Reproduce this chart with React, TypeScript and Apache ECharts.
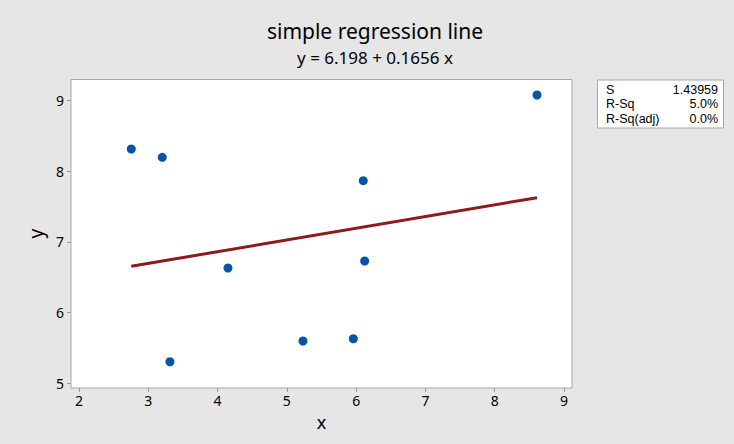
import React, { useEffect, useRef } from "react";
import * as echarts from "echarts";

const xValues = [2.755, 3.202, 3.313, 4.15, 5.233, 5.959, 6.103, 6.123, 8.61];
const yValues = [8.312, 8.194, 5.305, 6.63, 5.598, 5.63, 7.864, 6.729, 9.075];
const intercept = 6.198;
const slope = 0.1656;
const xTicks = [2, 3, 4, 5, 6, 7, 8, 9];
const yTicks = [5, 6, 7, 8, 9];
const statLabels = ["S", "R-Sq", "R-Sq(adj)"];
const statValues = ["1.43959", "5.0%", "0.0%"];
const titleText = "simple regression line";

const FONT = "'Noto Sans', 'Open Sans', sans-serif";
const STAT_FONT = "'Liberation Sans', Arial, sans-serif";

export default function App() {
  const ref = useRef<HTMLDivElement>(null);
  useEffect(() => {
    if (!ref.current) return;
    const chart = echarts.init(ref.current, null, { renderer: "svg" });
    const xMin = Math.min(...xValues);
    const xMax = Math.max(...xValues);
    const lineData = [
      [xMin, intercept + slope * xMin],
      [xMax, intercept + slope * xMax],
    ];
    const scatterData = xValues.map((x, i) => [x, yValues[i]]);

    const statTexts: any[] = [];
    statLabels.forEach((l, i) => {
      const y = 89.5 + i * 14.6;
      statTexts.push({
        type: "text",
        x: 606,
        y,
        style: { text: l, fontSize: 12.5, fontFamily: STAT_FONT, fill: "#000", textAlign: "left", textVerticalAlign: "middle" },
      });
      statTexts.push({
        type: "text",
        x: 718,
        y,
        style: { text: statValues[i], fontSize: 12.5, fontFamily: STAT_FONT, fill: "#000", textAlign: "right", textVerticalAlign: "middle" },
      });
    });

    chart.setOption({
      animation: false,
      backgroundColor: "#e6e6e6",
      textStyle: { fontFamily: FONT },
      grid: {
        left: 71,
        top: 79.5,
        right: 162,
        bottom: 56,
        show: true,
        backgroundColor: "#ffffff",
        borderColor: "#a8a8a8",
        borderWidth: 1,
      },
      xAxis: {
        type: "value",
        min: 1.885,
        max: 9.115,
        name: "x",
        nameLocation: "middle",
        nameGap: 25,
        nameTextStyle: { fontSize: 18, color: "#000" },
        axisLine: { show: false },
        splitLine: { show: false },
        axisTick: { show: true, length: 4, lineStyle: { color: "#999" }, customValues: xTicks },
        axisLabel: { fontSize: 14, color: "#000", margin: 5, customValues: xTicks },
      },
      yAxis: {
        type: "value",
        min: 4.934,
        max: 9.294,
        name: "y",
        nameLocation: "middle",
        nameGap: 23,
        nameTextStyle: { fontSize: 19, color: "#000" },
        axisLine: { show: false },
        splitLine: { show: false },
        axisTick: { show: true, length: 4, lineStyle: { color: "#999" }, customValues: yTicks },
        axisLabel: { fontSize: 14, color: "#000", margin: 7, customValues: yTicks },
      },
      graphic: [
        {
          type: "text",
          x: 375,
          y: 31,
          style: { text: titleText, fontSize: 21, fontFamily: FONT, fill: "#000", textAlign: "center", textVerticalAlign: "middle" },
        },
        {
          type: "text",
          x: 375,
          y: 57.5,
          style: {
            text: "y = " + intercept + " + " + slope + " x",
            fontSize: 17,
            fontFamily: FONT,
            fill: "#000",
            textAlign: "center",
            textVerticalAlign: "middle",
          },
        },
        {
          type: "rect",
          left: 597,
          top: 79.5,
          shape: { width: 126, height: 48 },
          style: { fill: "#ffffff", stroke: "#a8a8a8", lineWidth: 1 },
        },
        ...statTexts,
      ],
      series: [
        {
          type: "line",
          data: lineData,
          showSymbol: false,
          symbol: "none",
          lineStyle: { color: "#8e1b1b", width: 3 },
          z: 2,
        },
        {
          type: "scatter",
          data: scatterData,
          symbolSize: 9,
          itemStyle: { color: "#0454a8", opacity: 1 },
          clip: false,
          z: 3,
        },
      ],
    });
    return () => chart.dispose();
  }, []);
  return (
    <div
      ref={ref}
      style={{ position: "absolute", left: 0, top: 0, width: 734, height: 444 }}
    />
  );
}
